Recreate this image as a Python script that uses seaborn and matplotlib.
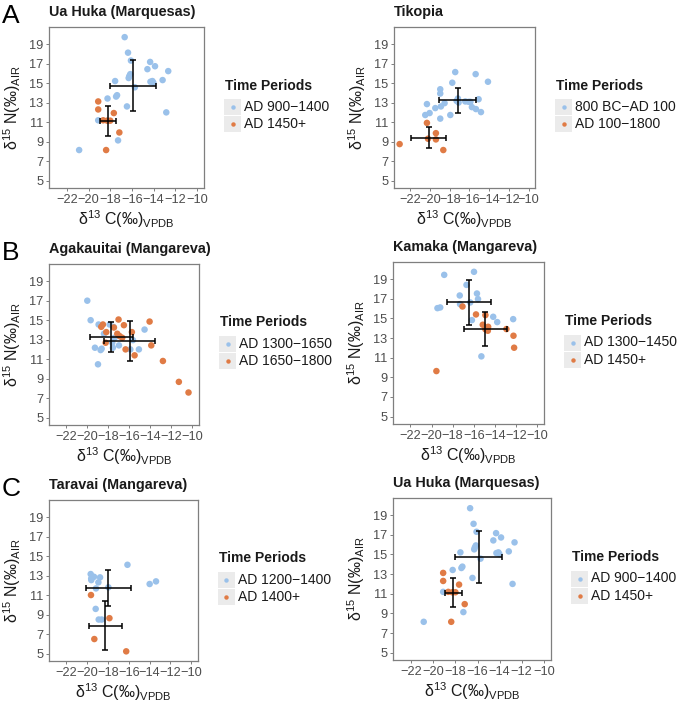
import matplotlib
matplotlib.use("Agg")
import matplotlib.pyplot as plt
from matplotlib.lines import Line2D
from matplotlib.patches import Rectangle
import seaborn as sns
import pandas as pd

# =============================================================================
# 1. DONNEES
# =============================================================================
blue = '#9AC1EA'
orange = '#E07B45'

# Ua Huka (Marquesas)
uahuka_early_c = [-16.67, -16.36, -16.09, -14.32, -13.87, -14.57, -12.65, -16.15, -16.24, -16.30,
                  -14.11, -14.02, -14.29, -13.17, -17.55, -15.73, -17.37, -17.46, -18.25, -16.46,
                  -12.83, -19.11, -17.28, -20.87]
uahuka_early_n = [19.71, 18.12, 17.31, 17.17, 16.73, 16.43, 16.23, 15.92, 15.72, 15.52,
                  15.21, 15.04, 15.14, 15.31, 15.21, 14.57, 13.76, 13.62, 13.42, 12.61,
                  12.00, 11.19, 9.13, 8.14]
uahuka_late_c = [-19.11, -19.11, -17.67, -18.65, -18.28, -18.00, -17.16, -18.38]
uahuka_late_n = [13.12, 12.30, 11.93, 11.19, 11.15, 11.15, 9.94, 8.14]
uahuka_periods = ['AD 900\u22121400', 'AD 1450+']
uahuka_mean_c = [-15.91, -18.19]
uahuka_mean_n = [14.74, 11.12]
uahuka_sd_c = [2.09, 0.75]
uahuka_sd_n = [2.64, 1.52]

# Tikopia
tikopia_early_c = [-17.44, -15.37, -14.12, -17.74, -18.96, -18.96, -15.07, -17.17, -17.30, -18.52,
                   -17.10, -16.42, -16.08, -15.90, -20.31, -19.46, -18.89, -15.75, -15.34, -14.83,
                   -20.48, -20.04, -17.94, -18.96]
tikopia_early_n = [16.13, 15.92, 15.14, 15.04, 14.37, 13.93, 13.35, 13.42, 13.18, 12.95,
                   13.01, 13.12, 13.08, 13.08, 12.85, 12.44, 12.61, 12.54, 12.34, 12.03,
                   11.73, 11.93, 11.73, 11.36]
tikopia_late_c = [-20.31, -19.40, -19.40, -20.20, -23.08, -18.65]
tikopia_late_n = [10.92, 9.87, 9.23, 9.30, 8.75, 8.14]
tikopia_periods = ['800 BC\u2212AD 100', 'AD 100\u22121800']
tikopia_mean_c = [-17.20, -20.14]
tikopia_mean_n = [13.22, 9.40]
tikopia_sd_c = [1.89, 1.77]
tikopia_sd_n = [1.30, 1.10]

# Agakauitai (Mangareva)
agak_early_c = [-20.00, -19.68, -18.92, -17.87, -17.50, -14.54, -18.41, -17.40, -15.65, -16.98,
                -19.27, -18.63, -18.73, -17.56, -15.90, -15.08, -18.98, -17.62]
agak_early_n = [16.99, 14.99, 14.55, 14.55, 14.30, 14.03, 13.60, 13.19, 12.95, 12.41,
                12.17, 12.07, 11.93, 12.17, 12.00, 12.00, 10.47, 12.68]
agak_late_c = [-17.02, -18.51, -18.67, -16.51, -17.46, -18.19, -17.14, -16.92, -16.67, -15.75,
               -18.25, -14.06, -13.90, -16.35, -15.49, -12.79, -11.27, -10.35]
agak_late_n = [15.06, 14.55, 14.31, 14.48, 14.24, 13.77, 13.60, 13.36, 13.19, 13.77,
               12.68, 14.85, 12.41, 12.00, 11.39, 10.81, 8.67, 7.58]
agak_periods = ['AD 1300\u22121650', 'AD 1650\u22121800']
agak_mean_c = [-17.71, -15.97]
agak_mean_n = [13.26, 12.85]
agak_sd_c = [2.06, 2.44]
agak_sd_n = [1.53, 2.02]

# Kamaka (Mangareva)
kamaka_early_c = [-18.80, -15.98, -16.69, -15.70, -17.33, -15.60, -16.34, -17.30, -19.44, -19.18,
                  -16.18, -14.16, -13.78, -12.27, -15.28]
kamaka_early_n = [19.44, 19.75, 18.42, 17.54, 17.34, 16.97, 16.63, 16.46, 16.05, 16.12,
                  14.83, 15.17, 14.63, 14.93, 11.14]
kamaka_late_c = [-17.07, -15.79, -14.90, -15.15, -14.64, -14.67, -14.90, -12.91, -12.24, -12.18, -19.54]
kamaka_late_n = [16.22, 15.41, 15.34, 14.36, 14.15, 13.75, 13.90, 13.92, 13.24, 12.02, 9.64]
kamaka_periods = ['AD 1300\u22121450', 'AD 1450+']
kamaka_mean_c = [-16.43, -14.90]
kamaka_mean_n = [16.63, 13.95]
kamaka_sd_c = [2.06, 2.06]
kamaka_sd_n = [2.29, 1.75]

# Taravai (Mangareva)
taravai_early_c = [-16.12, -19.65, -19.33, -18.75, -19.59, -18.91, -19.14, -17.95, -13.99, -13.38,
                   -19.17, -18.88, -18.59, -19.60]
taravai_early_n = [14.11, 13.16, 12.88, 12.82, 12.54, 12.31, 11.69, 11.80, 12.14, 12.41,
                   9.59, 8.50, 8.50, 12.70]
taravai_late_c = [-19.62, -17.85, -19.30, -16.24]
taravai_late_n = [11.01, 8.64, 6.50, 5.24]
taravai_periods = ['AD 1200\u22121400', 'AD 1400+']
taravai_mean_c = [-17.95, -18.24]
taravai_mean_n = [11.73, 7.85]
taravai_sd_c = [2.17, 1.58]
taravai_sd_n = [1.83, 2.51]

x_ticks = [-22, -20, -18, -16, -14, -12, -10]
y_ticks = [5, 7, 9, 11, 13, 15, 17, 19]

# =============================================================================
# 2. STYLE
# =============================================================================
sns.set_theme(style='white')
plt.rcParams['font.family'] = ['Liberation Sans', 'DejaVu Sans']
plt.rcParams['mathtext.fontset'] = 'custom'
plt.rcParams['mathtext.rm'] = 'Liberation Sans'
plt.rcParams['mathtext.it'] = 'Liberation Sans'
plt.rcParams['mathtext.default'] = 'regular'

W, H = 677, 703
fig = plt.figure(figsize=(W / 100, H / 100), dpi=100)
fig.patch.set_facecolor('white')


def px_rect(l, t, r, b):
    return [l / W, 1 - b / H, (r - l) / W, (b - t) / H]


def panel(box, title, letter, early, late, periods, mc, mn, sc, sn):
    l, t, r, b = box
    ax = fig.add_axes(px_rect(l, t, r, b))
    df = pd.DataFrame({
        'c13': list(early[0]) + list(late[0]),
        'n15': list(early[1]) + list(late[1]),
        'period': [periods[0]] * len(early[0]) + [periods[1]] * len(late[0]),
    })
    sns.scatterplot(data=df, x='c13', y='n15', hue='period', hue_order=periods,
                    palette=[blue, orange], s=22, edgecolor='none', legend=False, ax=ax, zorder=2)
    ax.errorbar(mc, mn, xerr=sc, yerr=sn, fmt='none', ecolor='black',
                elinewidth=1.1, capsize=2.5, capthick=1.1, zorder=3)

    ax.set_xlim(-23.65, -9.35)
    ax.set_ylim(4.25, 20.75)
    ax.set_xticks(x_ticks)
    ax.set_yticks(y_ticks)
    ax.tick_params(axis='both', which='both', direction='out', length=2.5, width=0.7,
                   color='#7F7F7F', labelcolor='#4D4D4D', labelsize=9.2, pad=1.5,
                   bottom=True, left=True)
    for sp in ax.spines.values():
        sp.set_color('#7F7F7F')
        sp.set_linewidth(0.9)

    ax.set_xlabel(r'$\delta^{13}$ C(‰)$_{\mathrm{VPDB}}$', fontsize=11.5, color='#1A1A1A')
    ax.set_ylabel(r'$\delta^{15}$ N(‰)$_{\mathrm{AIR}}$', fontsize=11.5, color='#1A1A1A')
    # le point d'ancrage = haut du label x / bord droit du label y
    ax.xaxis.set_label_coords(0.5, -20 / (b - t))
    ax.yaxis.set_label_coords(-26 / (r - l), 0.5)

    fig.text(l / W, 1 - (t - 15) / H, title, fontsize=10.4, fontweight='bold',
             ha='left', va='center', color='#1A1A1A')
    if letter:
        fig.text(2 / W, 1 - (t - 11) / H, letter, fontsize=19, ha='left', va='center', color='black')

    # legende manuelle facon ggplot
    lx = r + 20
    cy = (t + b) / 2
    fig.text((lx + 1) / W, 1 - (cy - 22) / H, 'Time Periods', fontsize=10, fontweight='bold',
             ha='left', va='center', color='#1A1A1A')
    for i, (lab, col) in enumerate(zip(periods, [blue, orange])):
        ry = cy - 0.5 + 17 * i
        fig.add_artist(Rectangle((lx / W, 1 - (ry + 8) / H), 17 / W, 16 / H,
                                 transform=fig.transFigure, facecolor='#EBEBEB', edgecolor='none'))
        fig.add_artist(Line2D([(lx + 8.5) / W], [1 - ry / H], marker='o', markersize=3.2,
                              color=col, markeredgewidth=0, linestyle='none', transform=fig.transFigure))
        fig.text((lx + 20) / W, 1 - ry / H, lab, fontsize=10, ha='left', va='center', color='#1A1A1A')
    return ax


# =============================================================================
# 3. PANNEAUX
# =============================================================================
panel((49, 27, 204, 188), 'Ua Huka (Marquesas)', 'A',
      (uahuka_early_c, uahuka_early_n), (uahuka_late_c, uahuka_late_n), uahuka_periods,
      uahuka_mean_c, uahuka_mean_n, uahuka_sd_c, uahuka_sd_n)
panel((394, 27, 535, 188), 'Tikopia', None,
      (tikopia_early_c, tikopia_early_n), (tikopia_late_c, tikopia_late_n), tikopia_periods,
      tikopia_mean_c, tikopia_mean_n, tikopia_sd_c, tikopia_sd_n)
panel((49, 264, 199, 425), 'Agakauitai (Mangareva)', 'B',
      (agak_early_c, agak_early_n), (agak_late_c, agak_late_n), agak_periods,
      agak_mean_c, agak_mean_n, agak_sd_c, agak_sd_n)
panel((393, 262, 544, 424), 'Kamaka (Mangareva)', None,
      (kamaka_early_c, kamaka_early_n), (kamaka_late_c, kamaka_late_n), kamaka_periods,
      kamaka_mean_c, kamaka_mean_n, kamaka_sd_c, kamaka_sd_n)
panel((49, 500, 198, 661), 'Taravai (Mangareva)', 'C',
      (taravai_early_c, taravai_early_n), (taravai_late_c, taravai_late_n), taravai_periods,
      taravai_mean_c, taravai_mean_n, taravai_sd_c, taravai_sd_n)
panel((393, 498, 551, 660), 'Ua Huka (Marquesas)', None,
      (uahuka_early_c, uahuka_early_n), (uahuka_late_c, uahuka_late_n), uahuka_periods,
      uahuka_mean_c, uahuka_mean_n, uahuka_sd_c, uahuka_sd_n)

fig.savefig('out.png', dpi=100, facecolor='white')
